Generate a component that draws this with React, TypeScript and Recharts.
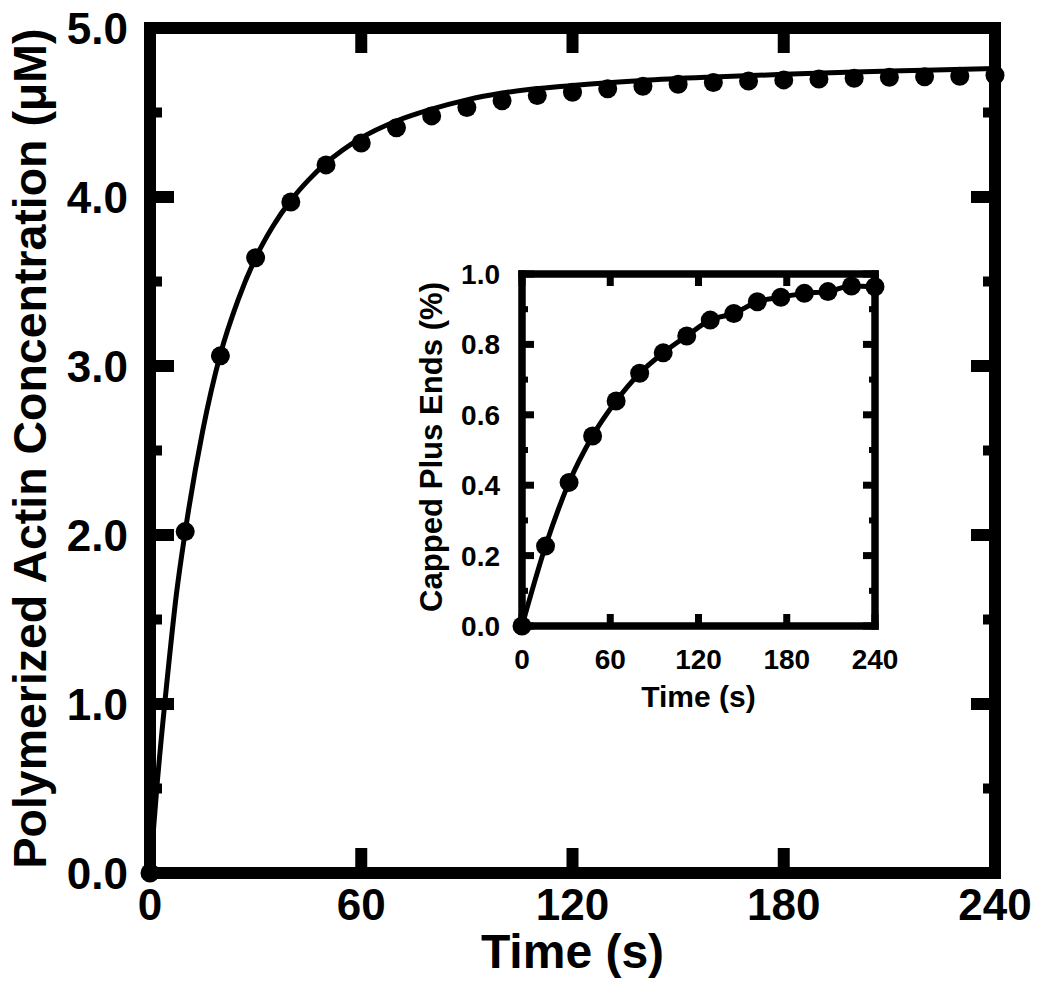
import React from 'react';
import { ComposedChart, Line, Scatter, XAxis, YAxis, Label } from 'recharts';

// ---------- main panel data ----------
const MAIN_OBS_TIME = [0, 10, 20, 30, 40, 50, 60, 70, 80, 90, 100, 110, 120, 130, 140, 150, 160, 170, 180, 190, 200, 210, 220, 230, 240];
const MAIN_OBS_CONC = [0, 2.02, 3.06, 3.64, 3.97, 4.19, 4.32, 4.41, 4.48, 4.53, 4.57, 4.6, 4.62, 4.64, 4.655, 4.667, 4.677, 4.686, 4.693, 4.698, 4.703, 4.708, 4.712, 4.715, 4.72];
const MAIN_FIT_TIME = [0, 2, 5, 7.5, 10, 15, 20, 25, 30, 35, 40, 45, 50, 60, 70, 80, 90, 100, 120, 140, 160, 180, 200, 220, 240];
const MAIN_FIT_CONC = [0, 0.52, 1.17, 1.65, 2.02, 2.62, 3.07, 3.39, 3.64, 3.83, 3.98, 4.1, 4.2, 4.35, 4.45, 4.52, 4.575, 4.615, 4.66, 4.69, 4.71, 4.726, 4.74, 4.75, 4.76];
const MAIN_X_TICKS = [0, 60, 120, 180, 240];
const MAIN_X_LABELS = ['0', '60', '120', '180', '240'];
const MAIN_Y_TICKS = [0, 0.5, 1, 1.5, 2, 2.5, 3, 3.5, 4, 4.5, 5];
const MAIN_Y_LABELS = ['0.0', '', '1.0', '', '2.0', '', '3.0', '', '4.0', '', '5.0'];

// ---------- inset data ----------
const INSET_TIME = [0, 16, 32, 48, 64, 80, 96, 112, 128, 144, 160, 176, 192, 208, 224, 240];
const INSET_CAPPED = [0, 0.227, 0.408, 0.54, 0.639, 0.718, 0.776, 0.824, 0.869, 0.888, 0.921, 0.934, 0.945, 0.95, 0.966, 0.964];
const INSET_X_TICKS = [0, 60, 120, 180, 240];
const INSET_X_LABELS = ['0', '60', '120', '180', '240'];
const INSET_Y_TICKS = [0, 0.1, 0.2, 0.3, 0.4, 0.5, 0.6, 0.7, 0.8, 0.9, 1.0];
const INSET_Y_LABELS = ['0.0', '', '0.2', '', '0.4', '', '0.6', '', '0.8', '', '1.0'];

const mainObs = MAIN_OBS_TIME.map((t, i) => ({ t, v: MAIN_OBS_CONC[i] }));
const mainFit = MAIN_FIT_TIME.map((t, i) => ({ t, v: MAIN_FIT_CONC[i] }));
const insetObs = INSET_TIME.map((t, i) => ({ t, v: INSET_CAPPED[i] }));

const FONT = '"Liberation Sans", Arial, Helvetica, sans-serif';

type Side = 'bottom' | 'top' | 'left' | 'right';
interface TickOpts {
  side: Side;
  ticks: number[];
  labels: string[];
  showLabels: boolean;
  majorLen: number;
  minorLen: number;
  majorW: number;
  minorW: number;
  fontSize: number;
  labelOffset: number;
}

function makeTick(o: TickOpts) {
  return (p: any) => {
    const v = p.payload.value;
    const idx = o.ticks.findIndex((t) => Math.abs(t - v) < 1e-9);
    const label = idx >= 0 ? o.labels[idx] : '';
    const major = label !== '';
    const len = major ? o.majorLen : o.minorLen;
    const w = major ? o.majorW : o.minorW;
    const x = p.x;
    const y = p.y;
    let rect: any;
    let text: any = null;
    if (o.side === 'bottom') {
      rect = <rect x={x - w / 2} y={y - len} width={w} height={len} fill="#000" />;
      if (o.showLabels && label)
        text = (
          <text x={x} y={y + o.labelOffset} textAnchor="middle" fontFamily={FONT} fontWeight="bold" fontSize={o.fontSize} fill="#000">
            {label}
          </text>
        );
    } else if (o.side === 'top') {
      rect = <rect x={x - w / 2} y={y} width={w} height={len} fill="#000" />;
    } else if (o.side === 'left') {
      rect = <rect x={x} y={y - w / 2} width={len} height={w} fill="#000" />;
      if (o.showLabels && label)
        text = (
          <text x={x - o.labelOffset} y={y + o.fontSize * 0.358} textAnchor="end" fontFamily={FONT} fontWeight="bold" fontSize={o.fontSize} fill="#000">
            {label}
          </text>
        );
    } else {
      rect = <rect x={x - len} y={y - w / 2} width={len} height={w} fill="#000" />;
    }
    return (
      <g>
        {rect}
        {text}
      </g>
    );
  };
}

const mainAxisLine = { stroke: '#000', strokeWidth: 12, strokeLinecap: 'square' as const };
const insetAxisLine = { stroke: '#000', strokeWidth: 7.5, strokeLinecap: 'square' as const };

const MainXTitle = (props: any) => {
  const vb = props.viewBox;
  return (
    <text x={vb.x + vb.width / 2} y={vb.y + 95} textAnchor="middle" fontFamily={FONT} fontWeight="bold" fontSize={48} fill="#000">
      Time (s)
    </text>
  );
};
const MainYTitle = (props: any) => {
  const vb = props.viewBox;
  const cx = vb.x + 46;
  const cy = vb.y + vb.height / 2 - 2;
  return (
    <text
      x={cx}
      y={cy}
      transform={`rotate(-90, ${cx}, ${cy})`}
      textAnchor="middle"
      fontFamily={FONT}
      fontWeight="bold"
      fontSize={46}
      textLength={840}
      lengthAdjust="spacingAndGlyphs"
      fill="#000"
    >
      Polymerized Actin Concentration (μM)
    </text>
  );
};
const InsetXTitle = (props: any) => {
  const vb = props.viewBox;
  return (
    <text x={vb.x + vb.width / 2} y={vb.y + 81} textAnchor="middle" fontFamily={FONT} fontWeight="bold" fontSize={30} fill="#000">
      Time (s)
    </text>
  );
};
const InsetYTitle = (props: any) => {
  const vb = props.viewBox;
  const cx = vb.x + 42;
  const cy = vb.y + vb.height / 2 - 3;
  return (
    <text
      x={cx}
      y={cy}
      transform={`rotate(-90, ${cx}, ${cy})`}
      textAnchor="middle"
      fontFamily={FONT}
      fontWeight="bold"
      fontSize={31}
      textLength={330}
      lengthAdjust="spacingAndGlyphs"
      fill="#000"
    >
      Capped Plus Ends (%)
    </text>
  );
};

const mainDot = (p: any) => <circle cx={p.cx} cy={p.cy} r={9.5} fill="#000" />;
const insetDot = (p: any) => <circle cx={p.cx} cy={p.cy} r={9.5} fill="#000" />;
const noDot = () => <g />;

export default function App() {
  const common = { tickSize: 0, tickMargin: 0, interval: 0 as const };
  return (
    <div style={{ position: 'absolute', left: 0, top: 0, width: 1050, height: 987, background: '#fff' }}>
      <div style={{ position: 'absolute', left: 0, top: 0 }}>
        <ComposedChart width={1050} height={987} margin={{ top: 27, right: 54, bottom: 0, left: 0 }}>
          <XAxis
            xAxisId="b"
            orientation="bottom"
            type="number"
            dataKey="t"
            domain={[0, 240]}
            ticks={MAIN_X_TICKS}
            height={114}
            axisLine={mainAxisLine}
            tick={makeTick({ side: 'bottom', ticks: MAIN_X_TICKS, labels: MAIN_X_LABELS, showLabels: true, majorLen: 25, minorLen: 12, majorW: 12, minorW: 10, fontSize: 44, labelOffset: 47 })}
            {...common}
          >
            <Label content={MainXTitle} />
          </XAxis>
          <XAxis
            xAxisId="t"
            orientation="top"
            type="number"
            dataKey="t"
            domain={[0, 240]}
            ticks={MAIN_X_TICKS}
            height={1}
            axisLine={mainAxisLine}
            tick={makeTick({ side: 'top', ticks: MAIN_X_TICKS, labels: MAIN_X_LABELS, showLabels: false, majorLen: 25, minorLen: 12, majorW: 12, minorW: 10, fontSize: 44, labelOffset: 0 })}
            {...common}
          />
          <YAxis
            yAxisId="l"
            orientation="left"
            type="number"
            dataKey="v"
            domain={[0, 5]}
            ticks={MAIN_Y_TICKS}
            width={150}
            axisLine={mainAxisLine}
            tick={makeTick({ side: 'left', ticks: MAIN_Y_TICKS, labels: MAIN_Y_LABELS, showLabels: true, majorLen: 24, minorLen: 12, majorW: 12, minorW: 10, fontSize: 44, labelOffset: 22 })}
            {...common}
          >
            <Label content={MainYTitle} />
          </YAxis>
          <YAxis
            yAxisId="r"
            orientation="right"
            type="number"
            dataKey="v"
            domain={[0, 5]}
            ticks={MAIN_Y_TICKS}
            width={1}
            axisLine={mainAxisLine}
            tick={makeTick({ side: 'right', ticks: MAIN_Y_TICKS, labels: MAIN_Y_LABELS, showLabels: false, majorLen: 24, minorLen: 12, majorW: 12, minorW: 10, fontSize: 44, labelOffset: 0 })}
            {...common}
          />
          {/* invisible series bound to the top/right frame axes so they get a scale */}
          <Scatter xAxisId="t" yAxisId="r" data={mainObs} dataKey="v" shape={noDot} legendType="none" isAnimationActive={false} />
          <Line
            xAxisId="b"
            yAxisId="l"
            data={mainFit}
            dataKey="v"
            type="monotone"
            stroke="#000"
            strokeWidth={5}
            dot={false}
            activeDot={false}
            isAnimationActive={false}
          />
          <Scatter xAxisId="b" yAxisId="l" data={mainObs} dataKey="v" fill="#000" shape={mainDot} isAnimationActive={false} />
        </ComposedChart>
      </div>

      <div style={{ position: 'absolute', left: 400, top: 250 }}>
        <ComposedChart width={500} height={480} margin={{ top: 23, right: 24, bottom: 0, left: 0 }}>
          <XAxis
            xAxisId="b"
            orientation="bottom"
            type="number"
            dataKey="t"
            domain={[0, 240]}
            ticks={INSET_X_TICKS}
            height={104}
            axisLine={insetAxisLine}
            tick={makeTick({ side: 'bottom', ticks: INSET_X_TICKS, labels: INSET_X_LABELS, showLabels: true, majorLen: 12, minorLen: 6, majorW: 7, minorW: 6, fontSize: 28, labelOffset: 43 })}
            {...common}
          >
            <Label content={InsetXTitle} />
          </XAxis>
          <XAxis
            xAxisId="t"
            orientation="top"
            type="number"
            dataKey="t"
            domain={[0, 240]}
            ticks={INSET_X_TICKS}
            height={1}
            axisLine={insetAxisLine}
            tick={makeTick({ side: 'top', ticks: INSET_X_TICKS, labels: INSET_X_LABELS, showLabels: false, majorLen: 12, minorLen: 6, majorW: 7, minorW: 6, fontSize: 28, labelOffset: 0 })}
            {...common}
          />
          <YAxis
            yAxisId="l"
            orientation="left"
            type="number"
            dataKey="v"
            domain={[0, 1]}
            ticks={INSET_Y_TICKS}
            width={122}
            axisLine={insetAxisLine}
            tick={makeTick({ side: 'left', ticks: INSET_Y_TICKS, labels: INSET_Y_LABELS, showLabels: true, majorLen: 12, minorLen: 6, majorW: 7, minorW: 6, fontSize: 28, labelOffset: 22 })}
            {...common}
          >
            <Label content={InsetYTitle} />
          </YAxis>
          <YAxis
            yAxisId="r"
            orientation="right"
            type="number"
            dataKey="v"
            domain={[0, 1]}
            ticks={INSET_Y_TICKS}
            width={1}
            axisLine={insetAxisLine}
            tick={makeTick({ side: 'right', ticks: INSET_Y_TICKS, labels: INSET_Y_LABELS, showLabels: false, majorLen: 12, minorLen: 6, majorW: 7, minorW: 6, fontSize: 28, labelOffset: 0 })}
            {...common}
          />
          <Scatter xAxisId="t" yAxisId="r" data={insetObs} dataKey="v" shape={noDot} legendType="none" isAnimationActive={false} />
          <Line
            xAxisId="b"
            yAxisId="l"
            data={insetObs}
            dataKey="v"
            type="monotone"
            stroke="#000"
            strokeWidth={5}
            dot={false}
            activeDot={false}
            isAnimationActive={false}
          />
          <Scatter xAxisId="b" yAxisId="l" data={insetObs} dataKey="v" fill="#000" shape={insetDot} isAnimationActive={false} />
        </ComposedChart>
      </div>
    </div>
  );
}
